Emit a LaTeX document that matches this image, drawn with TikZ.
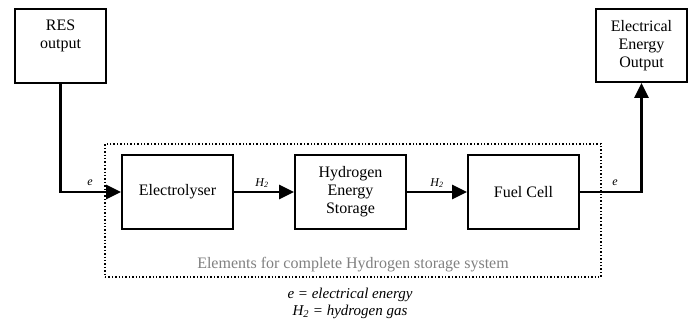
\documentclass[tikz,border=0pt]{standalone}
\usepackage{fontspec}
\setmainfont{Liberation Serif}
\usetikzlibrary{arrows.meta}
\begin{document}
\begin{tikzpicture}[x=1pt,y=-1pt,
  box/.style={draw, line width=2pt, minimum width=111pt, minimum height=74pt, inner sep=0pt, align=center, font=\fontsize{16}{18}\selectfont},
  sbox/.style={box, minimum width=91pt},
  flow/.style={line width=2.8pt, -{Triangle[length=15pt,width=14pt]}},
  lab/.style={font=\fontsize{12}{13}\selectfont\itshape, inner sep=0pt},
  txt/.style={align=center, inner sep=0pt, font=\fontsize{16}{18}\selectfont}]
\useasboundingbox (0,0) rectangle (693,320);
\node[draw, dotted, line width=1.4pt, minimum width=496pt, minimum height=133pt, inner sep=0pt] (sys) at (353,210.5) {};
\node[sbox, minimum height=74pt] (res) at (60.5,46) {};
\node[txt] (restext) at (60.5,36) {RES\\output};
\node[sbox, minimum height=73pt] (out) at (641.5,45.5) {Electrical\\Energy\\Output};
\node[box] (ely) at (177.5,192) {Electrolyser};
\node[box] (hes) at (350.5,192) {Hydrogen\\Energy\\Storage};
\node[box] (fc) at (523.5,192) {Fuel Cell};
\draw[flow] (res.south) |- (ely.west);
\draw[flow] (ely.east) -- (hes.west);
\draw[flow] (hes.east) -- (fc.west);
\draw[flow] (fc.east) -| (out.south);
\node[lab] (e1) at (90,183) {e};
\node[lab] (h1) at (262,183) {H\textsubscript{2}};
\node[lab] (h2) at (437,183) {H\textsubscript{2}};
\node[lab] (e2) at (615,183) {e};
\node[txt, text=black!50] (cap) at (353,265) {Elements for complete Hydrogen storage system};
\node[txt, font=\fontsize{15}{17}\selectfont\itshape] (leg) at (350,303) {e = electrical energy\\H\textsubscript{2} = hydrogen gas};
\end{tikzpicture}
\end{document}
